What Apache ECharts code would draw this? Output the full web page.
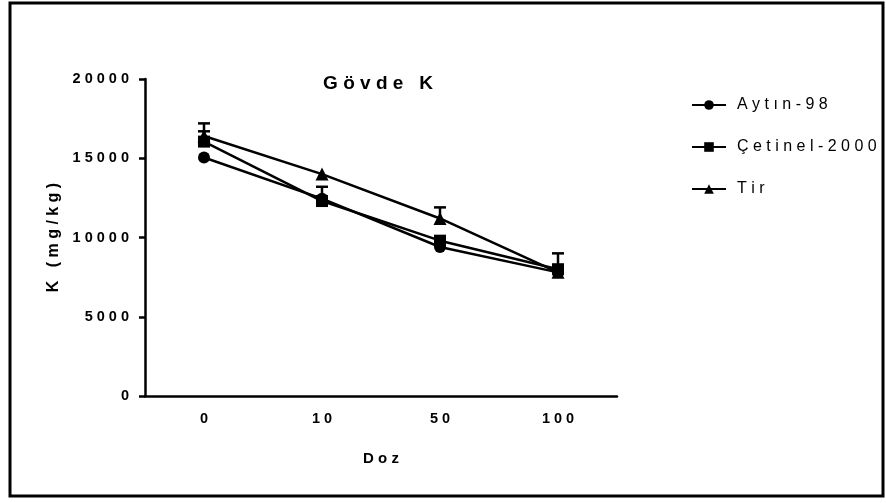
<!DOCTYPE html>
<html>
<head>
<meta charset="utf-8">
<script src="https://cdn.jsdelivr.net/npm/echarts@6/dist/echarts.min.js"></script>
<style>
  html, body { margin: 0; padding: 0; background: #fff; }
  #chart { width: 886px; height: 503px; }
</style>
</head>
<body>
<div id="chart"></div>
<script>
// 数据
const categories = ['0', '10', '50', '100']
const yTicks = [0, 5000, 10000, 15000, 20000]
const aytin = [15050, 12450, 9400, 7800]
const cetinel = [16050, 12300, 9800, 8000]
const tir = [16400, 14000, 11200, 7800]
// upper end of error bars (same as value = no bar drawn)
const cetinelUpper = [16700, 13200, 9800, 9000]
const tirUpper = [17200, 14000, 11900, 7800]

// wide letter spacing, as in the original figure
const spaced = (s, sep) => String(s).split('').join(sep || ' ')
const font = 'Liberation Sans, Arial, sans-serif'

function errData(vals, upper) {
  const out = []
  vals.forEach((v, i) => {
    if (upper[i] > v) out.push([i, v, upper[i]])
  })
  return out
}

function errSeries(name, data) {
  return {
    type: 'custom',
    name: name + '-err',
    z: 1,
    silent: true,
    data: data,
    renderItem: function(params, api) {
      const x = api.value(0)
      const lo = api.coord([x, api.value(1)])
      const hi = api.coord([x, api.value(2)])
      const half = 6
      return {
        type: 'group',
        children: [
          { type: 'line', shape: { x1: lo[0], y1: lo[1], x2: hi[0], y2: hi[1] }, style: { stroke: '#000', lineWidth: 2.5 } },
          { type: 'line', shape: { x1: hi[0] - half, y1: hi[1], x2: hi[0] + half, y2: hi[1] }, style: { stroke: '#000', lineWidth: 2.5 } }
        ]
      }
    }
  }
}

function lineSeries(name, data, symbol, size) {
  return {
    type: 'line',
    name: name,
    data: data,
    symbol: symbol,
    symbolSize: size,
    showAllSymbol: true,
    z: 3,
    lineStyle: { color: '#000', width: 2.5 },
    itemStyle: { color: '#000' },
    emphasis: { disabled: true }
  }
}

const option = {
  animation: false,
  backgroundColor: '#fff',
  textStyle: { fontFamily: font },
  graphic: [
    {
      type: 'rect',
      shape: { x: 10, y: 3, width: 873, height: 493 },
      style: { fill: 'none', stroke: '#000', lineWidth: 3 },
      z: -10
    },
    {
      type: 'text',
      x: 378,
      y: 84,
      style: {
        text: spaced('Gövde K'),
        fill: '#000',
        font: 'bold 19px ' + font,
        textAlign: 'center',
        textVerticalAlign: 'middle'
      }
    }
  ],
  legend: {
    orient: 'vertical',
    left: 686,
    top: 92,
    itemWidth: 34,
    itemHeight: 12,
    itemGap: 26,
    selectedMode: false,
    data: ['Aytın-98', 'Çetinel-2000', 'Tir'],
    formatter: function(name) {
      return spaced(name)
    },
    textStyle: { color: '#000', fontSize: 16, fontFamily: font, padding: [0, 0, 0, 6] }
  },
  grid: {
    left: 145,
    right: 269,
    top: 79,
    bottom: 107,
    containLabel: false
  },
  xAxis: {
    type: 'category',
    data: categories,
    boundaryGap: true,
    name: spaced('Doz'),
    nameLocation: 'middle',
    nameGap: 55,
    nameTextStyle: { color: '#000', fontWeight: 'bold', fontSize: 15, fontFamily: font },
    axisLine: { lineStyle: { color: '#000', width: 2.5 } },
    axisTick: { alignWithLabel: true, length: 6, lineStyle: { color: '#000', width: 2.5 } },
    axisLabel: {
      color: '#000',
      fontWeight: 'bold',
      fontSize: 14.5,
      margin: 15,
      formatter: v => spaced(v)
    },
    splitLine: { show: false }
  },
  yAxis: {
    type: 'value',
    min: yTicks[0],
    max: yTicks[yTicks.length - 1],
    interval: 5000,
    name: spaced('K (mg/kg)'),
    nameLocation: 'middle',
    nameRotate: 90,
    nameGap: 82,
    nameTextStyle: { color: '#000', fontWeight: 'bold', fontSize: 16, fontFamily: font },
    axisLine: { show: true, lineStyle: { color: '#000', width: 2.5 } },
    axisTick: { show: true, length: 6, lineStyle: { color: '#000', width: 2.5 } },
    axisLabel: {
      color: '#000',
      fontWeight: 'bold',
      fontSize: 14.5,
      margin: 16,
      formatter: v => spaced(v)
    },
    splitLine: { show: false }
  },
  series: [
    errSeries('Çetinel-2000', errData(cetinel, cetinelUpper)),
    errSeries('Tir', errData(tir, tirUpper)),
    lineSeries('Tir', tir, 'triangle', 13),
    lineSeries('Aytın-98', aytin, 'circle', 12),
    lineSeries('Çetinel-2000', cetinel, 'rect', 12)
  ]
}

const myChart = echarts.init(document.getElementById('chart'))
myChart.setOption(option)
window.addEventListener('resize', () => {
  myChart.resize()
})
</script>
</body>
</html>
